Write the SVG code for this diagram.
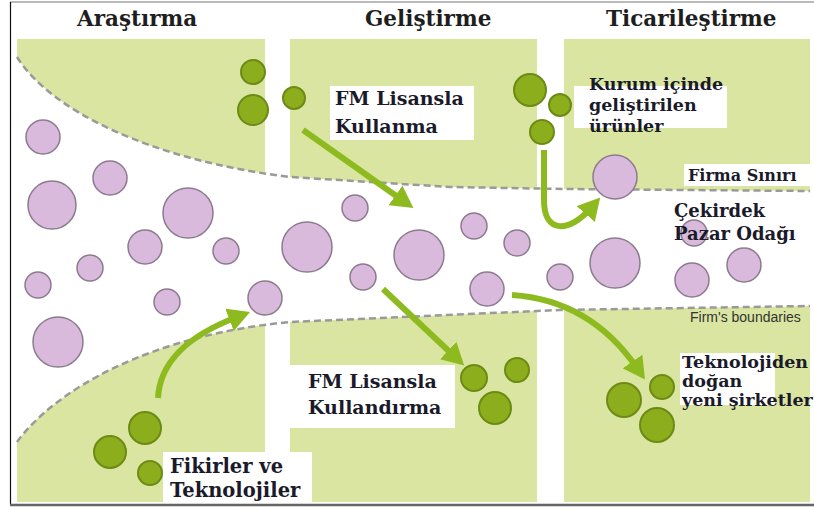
<svg xmlns="http://www.w3.org/2000/svg" width="814" height="510" viewBox="0 0 814 510">
<style>
.panel{fill:#d9e5a1}
.hdr{font-family:"DejaVu Serif","Liberation Serif",serif;font-weight:bold;font-size:21.5px;fill:#1e1e1e}
.lbl{font-family:"DejaVu Serif","Liberation Serif",serif;font-weight:bold;fill:#1a1a2a}
.box{fill:#ffffff}
.pc{fill:#d9badc;stroke:#8c7b8e;stroke-width:1.5}
.gc{fill:#8cae1c;stroke:#6c8a14;stroke-width:2}
.dash{fill:none;stroke:#9a9a9a;stroke-width:2.5;stroke-dasharray:7 4}
.arr{fill:none;stroke:#8dbb1f;stroke-width:6;marker-end:url(#ah)}
</style>
<defs>
<marker id="ah" markerUnits="userSpaceOnUse" markerWidth="24" markerHeight="24" refX="8" refY="12" orient="auto">
<path d="M0,0 L22,12 L0,24 Z" fill="#8dbb1f"/>
</marker>
</defs>
<rect x="0" y="0" width="814" height="510" fill="#ffffff"/>
<g id="panels">
<rect class="panel" x="17" y="39" width="248" height="463"/>
<rect class="panel" x="290" y="39" width="247" height="463"/>
<rect class="panel" x="564" y="39" width="246" height="463"/>
</g>
<g id="funnel">
<path d="M17,57 C50,110 150,160 290,177 L450,187 L564,189 L810,191 L810,306 L560,310 L290,322 C150,335 55,390 17,442 Z" fill="#ffffff"/>
<path class="dash" d="M17,57 C50,110 150,160 290,177 L450,187 L564,189 L810,191"/>
<path class="dash" d="M17,442 C55,390 150,335 290,322 L560,310 L810,306"/>
</g>
<g id="frame">
<line x1="10" y1="2" x2="814" y2="2" stroke="#777" stroke-width="1"/>
<line x1="10.5" y1="2" x2="10.5" y2="505" stroke="#111" stroke-width="1.2"/>
<line x1="10" y1="505" x2="814" y2="505" stroke="#666" stroke-width="2.5"/>
</g>
<g id="headers">
<text class="hdr" x="77" y="26">Araştırma</text>
<text class="hdr" x="365" y="26">Geliştirme</text>
<text class="hdr" x="606" y="26">Ticarileştirme</text>
</g>
<g id="ideas">
<circle class="pc" cx="43" cy="137" r="17"/>
<circle class="pc" cx="52" cy="205" r="24"/>
<circle class="pc" cx="110" cy="178" r="17"/>
<circle class="pc" cx="188" cy="213" r="25"/>
<circle class="pc" cx="145" cy="247" r="17"/>
<circle class="pc" cx="226" cy="251" r="13"/>
<circle class="pc" cx="90" cy="268" r="13"/>
<circle class="pc" cx="38" cy="285" r="13"/>
<circle class="pc" cx="167" cy="302" r="13"/>
<circle class="pc" cx="265" cy="298" r="17"/>
<circle class="pc" cx="58" cy="342" r="25"/>
<circle class="pc" cx="307" cy="247" r="25"/>
<circle class="pc" cx="355" cy="208" r="13"/>
<circle class="pc" cx="363" cy="277" r="13"/>
<circle class="pc" cx="419" cy="255" r="25"/>
<circle class="pc" cx="474" cy="226" r="13"/>
<circle class="pc" cx="517" cy="243" r="13"/>
<circle class="pc" cx="487" cy="289" r="17"/>
<circle class="pc" cx="560" cy="277" r="13"/>
<circle class="pc" cx="615" cy="263" r="25"/>
<circle class="pc" cx="615" cy="177" r="22"/>
<circle class="pc" cx="694" cy="233" r="13"/>
<circle class="pc" cx="692" cy="280" r="17"/>
<circle class="pc" cx="744" cy="265" r="17"/>
</g>
<g id="cluster-top-left">
<circle class="gc" cx="253" cy="72" r="12"/>
<circle class="gc" cx="253" cy="110" r="15"/>
<circle class="gc" cx="294" cy="98" r="11"/>
</g>
<g id="cluster-top-right">
<circle class="gc" cx="530" cy="90" r="16"/>
<circle class="gc" cx="560" cy="105" r="11"/>
<circle class="gc" cx="542" cy="132" r="12"/>
</g>
<g id="cluster-bottom-left">
<circle class="gc" cx="145" cy="428" r="16"/>
<circle class="gc" cx="110" cy="452" r="16"/>
<circle class="gc" cx="150" cy="473" r="12"/>
</g>
<g id="cluster-bottom-mid">
<circle class="gc" cx="474" cy="378" r="13"/>
<circle class="gc" cx="517" cy="370" r="12"/>
<circle class="gc" cx="495" cy="408" r="16"/>
</g>
<g id="cluster-bottom-right">
<circle class="gc" cx="624" cy="400" r="17"/>
<circle class="gc" cx="662" cy="387" r="12"/>
<circle class="gc" cx="657" cy="425" r="17"/>
</g>
<g id="connectors">
<path class="arr" d="M303,130 L402,200"/>
<path class="arr" stroke-width="5" d="M544,150 L544,200 C544,235 570,232 591,208"/>
<path class="arr" stroke-width="5" d="M158,398 C160,360 190,335 237,317"/>
<path class="arr" d="M383,289 L454,356"/>
<path class="arr" stroke-width="5" d="M512,295 Q590,300 637,368"/>
</g>
<g id="label-fm-kullanma">
<rect class="box" x="330" y="86" width="144" height="54"/>
<text class="lbl" font-size="19" x="335" y="105">FM Lisansla</text>
<text class="lbl" font-size="19" x="335" y="133">Kullanma</text>
</g>
<g id="label-kurum">
<rect class="box" x="574" y="86" width="153" height="42"/>
<text class="lbl" font-size="17.5" x="589" y="90">Kurum içinde</text>
<text class="lbl" font-size="17.5" x="589" y="111">geliştirilen</text>
<text class="lbl" font-size="17.5" x="589" y="132">ürünler</text>
</g>
<g id="label-firma-siniri">
<rect class="box" x="684" y="164" width="126" height="22"/>
<text class="lbl" font-size="16" x="688" y="181">Firma Sınırı</text>
</g>
<g id="label-cekirdek">
<text class="lbl" font-size="18" x="674" y="217">Çekirdek</text>
<text class="lbl" font-size="18" x="674" y="240">Pazar Odağı</text>
</g>
<g id="label-firms-boundaries">
<text x="690" y="322" font-family="Liberation Sans, Arial, sans-serif" font-size="14" fill="#333">Firm's boundaries</text>
</g>
<g id="label-fm-kullandirma">
<rect class="box" x="290" y="365" width="165" height="63"/>
<text class="lbl" font-size="19" x="308" y="388">FM Lisansla</text>
<text class="lbl" font-size="19" x="308" y="414">Kullandırma</text>
</g>
<g id="label-fikirler">
<rect class="box" x="163" y="452" width="149" height="50"/>
<text class="lbl" font-size="19.5" x="170" y="473">Fikirler ve</text>
<text class="lbl" font-size="19.5" x="170" y="497">Teknolojiler</text>
</g>
<g id="label-teknolojiden">
<rect class="box" x="680" y="353" width="95" height="52"/>
<text class="lbl" font-size="17.5" x="682" y="368">Teknolojiden</text>
<text class="lbl" font-size="17.5" x="682" y="387">doğan</text>
<text class="lbl" font-size="17.5" x="682" y="406">yeni şirketler</text>
</g>
</svg>
